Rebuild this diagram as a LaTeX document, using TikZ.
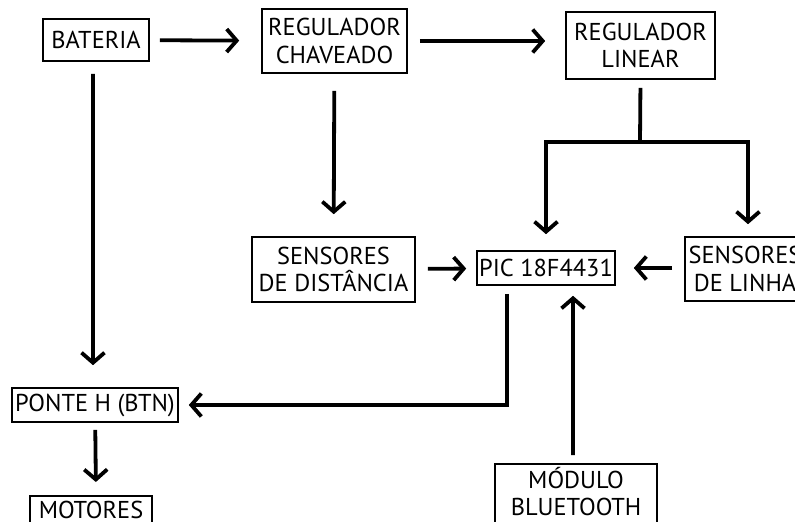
\documentclass[tikz,border=0pt]{standalone}
\usepackage{fontspec}
\setmainfont{PT Sans}
\usetikzlibrary{arrows.meta}

\begin{document}
\begin{tikzpicture}[x=1bp, y=-1bp,
    every node/.style={font=\fontsize{24.5}{28}\selectfont, align=center, inner sep=0pt},
    blk/.style={draw, line width=1.6bp},
    arr/.style={line width=3.8bp, -{Straight Barb[length=10bp, width=23bp]}},
    bar/.style={line width=3.8bp}]
\clip (0,0) rectangle (795,522);
\fill[white] (0,0) rectangle (795,522);

\node[blk, minimum width=106bp, minimum height=42bp] (bat)   at (96,40)    {BATERIA};
\node[blk, minimum width=145bp, minimum height=64bp] (chav)  at (334.5,41) {REGULADOR\\CHAVEADO};
\node[blk, minimum width=149bp, minimum height=67bp] (lin)   at (640.5,45.5) {REGULADOR\\LINEAR};
\node[blk, minimum width=163bp, minimum height=65bp] (dist)  at (333.5,269.5) {SENSORES\\DE DIST\^ANCIA};
\node[blk, minimum width=138bp, minimum height=34bp] (pic)   at (546,268)  {PIC 18F4431};
\node[blk, minimum width=120bp, minimum height=64bp] (linha) at (745,269)  {SENSORES\\DE LINHA};
\node[blk, minimum width=166bp, minimum height=34bp] (ponte) at (95,405)   {PONTE H (BTN)};
\node[blk, minimum width=122bp, inner ysep=5bp, anchor=north] (mot) at (91,495) {MOTORES};
\node[blk, minimum width=162bp, inner ysep=3bp, text depth=14bp, anchor=north] (blue) at (576,463) {M\'ODULO\\BLUETOOTH};

\coordinate (split) at (640,142);

% alimentacao
\draw[arr, shorten <=10bp, shorten >=22bp] (bat) -- (chav);
\draw[arr, shorten <=12bp, shorten >=20bp] (chav.east) -- (lin.west |- chav.east);
\draw[arr, shorten <=17bp, shorten >=22bp] (chav) -- (dist);
\draw[arr, shorten <=12bp, shorten >=22bp] ([xshift=-3bp]bat.south) -- ([xshift=-2bp]ponte.north);
\draw[bar, shorten <=8bp] (lin.south) -- (split);
\draw[arr, shorten >=16bp] (split) -| (pic.north);
\draw[arr, shorten >=12bp] (split) -| ([xshift=3bp]linha.north);

% sinais
\draw[arr, shorten <=12bp, shorten >=10bp] (dist) -- (pic);
\draw[arr, shorten <=12bp, shorten >=18bp] (linha.west |- pic.east) -- (pic.east);
\draw[arr, shorten <=8bp, shorten >=10bp] ([xshift=-39bp]pic.south) |- (ponte.east);
\draw[arr, shorten <=8bp, shorten >=10bp] ([xshift=-3bp]blue.north) -- ([xshift=27bp]pic.south);
\draw[arr, shorten <=7bp, shorten >=13bp] (ponte) -- ([xshift=5bp]mot.north);
\end{tikzpicture}
\end{document}
